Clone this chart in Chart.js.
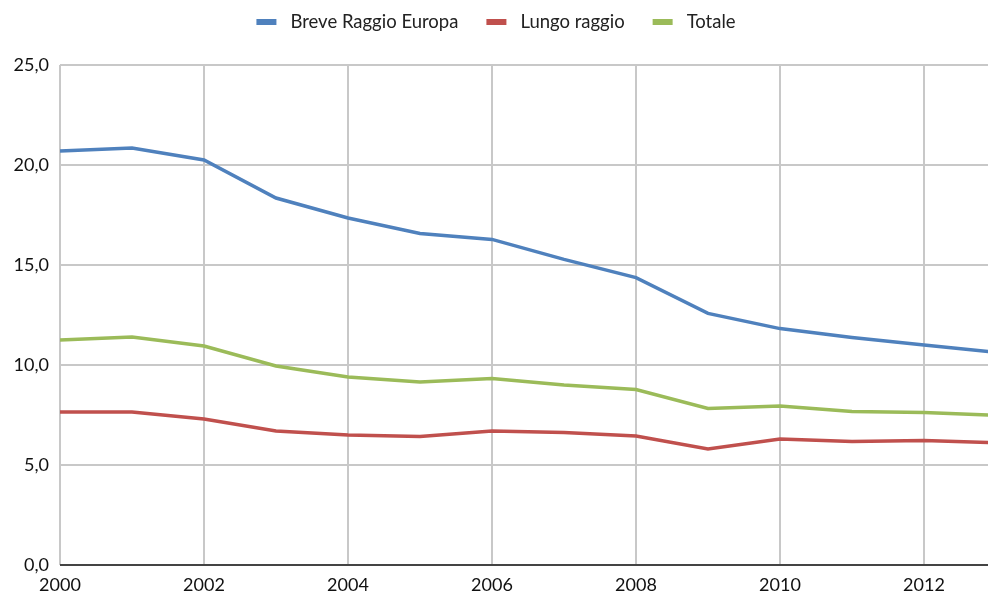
<!DOCTYPE html>
<html>
<head>
<meta charset="utf-8">
<script src="https://cdn.jsdelivr.net/npm/chart.js@4"></script>
<style>
  html, body { margin: 0; padding: 0; background: #fff; }
  #wrap { width: 988px; height: 594px; }
</style>
</head>
<body>
<div id="wrap"><canvas id="mainChart" width="988" height="594"></canvas></div>
<script>
// anni e valori (la serie continua nel 2013, tagliato dal bordo destro)
const years = [2000, 2001, 2002, 2003, 2004, 2005, 2006, 2007, 2008, 2009, 2010, 2011, 2012, 2013];
const breveRaggio = [20.7, 20.85, 20.25, 18.35, 17.35, 16.58, 16.28, 15.28, 14.37, 12.58, 11.82, 11.38, 11.0, 10.63];
const lungoRaggio = [7.65, 7.65, 7.3, 6.7, 6.5, 6.42, 6.7, 6.62, 6.45, 5.8, 6.3, 6.17, 6.22, 6.11];
const totale = [11.25, 11.4, 10.95, 9.95, 9.4, 9.15, 9.32, 9.0, 8.77, 7.83, 7.95, 7.68, 7.62, 7.49];
const seriesNames = ["Breve Raggio Europa", "Lungo raggio", "Totale"];
const seriesColors = ["#4f81bd", "#c0504d", "#9bbb59"];
const yTicks = [0, 5, 10, 15, 20, 25];
const xMin = 2000, xMax = 2012.889;

const toPoints = arr => arr.map((v, i) => ({ x: years[i], y: v }));

const datasets = [breveRaggio, lungoRaggio, totale].map((arr, i) => ({
  label: seriesNames[i],
  data: toPoints(arr),
  borderColor: seriesColors[i],
  backgroundColor: seriesColors[i],
  borderWidth: 3.5,
  pointRadius: 0,
  tension: 0
}));

// legenda disegnata a mano: rettangolino + testo, centrata in alto
const topLegend = {
  id: "topLegend",
  afterDraw(chart) {
    const c = chart.ctx;
    const boxW = 20, boxH = 6, gap = 14, spacing = 28, cy = 22, center = 496;
    c.save();
    c.font = "18.5px Lato";
    c.textBaseline = "middle";
    const items = chart.data.datasets.map(d => ({
      text: d.label, color: d.borderColor, w: c.measureText(d.label).width
    }));
    const total = items.reduce((s, it) => s + boxW + gap + it.w, 0) + spacing * (items.length - 1);
    let x = center - total / 2;
    items.forEach(it => {
      c.fillStyle = it.color;
      c.fillRect(x, cy - boxH / 2, boxW, boxH);
      x += boxW + gap;
      c.fillStyle = "#222";
      c.fillText(it.text, x, cy);
      x += it.w + spacing;
    });
    c.restore();
  }
};

const ctx = document.getElementById("mainChart").getContext("2d");
new Chart(ctx, {
  type: "line",
  data: { datasets },
  plugins: [topLegend],
  options: {
    responsive: false,
    animation: false,
    layout: { padding: { left: 0, right: 0, top: 65, bottom: 0 } },
    plugins: {
      legend: { display: false },
      tooltip: { enabled: false }
    },
    scales: {
      x: {
        type: "linear",
        min: xMin,
        max: xMax,
        afterFit: s => { s.height = 29; },
        ticks: {
          stepSize: 2,
          includeBounds: false,
          color: "#111",
          padding: 9,
          maxRotation: 0,
          font: { family: "Lato", size: 18 },
          callback: v => String(v)
        },
        grid: { color: "#c8c8c8", lineWidth: 2, drawTicks: false },
        border: { display: false }
      },
      y: {
        min: 0,
        max: 25,
        afterBuildTicks: s => { s.ticks = yTicks.map(v => ({ value: v })); },
        afterFit: s => { s.width = 60; },
        ticks: {
          color: "#111",
          padding: 11,
          font: { family: "Lato", size: 18 },
          callback: v => v.toFixed(1).replace(".", ",")
        },
        grid: {
          lineWidth: 2,
          drawTicks: false,
          color: ctx => ctx.tick && ctx.tick.value === 0 ? "#444" : "#c8c8c8"
        },
        border: { display: false }
      }
    }
  }
});
</script>
</body>
</html>
